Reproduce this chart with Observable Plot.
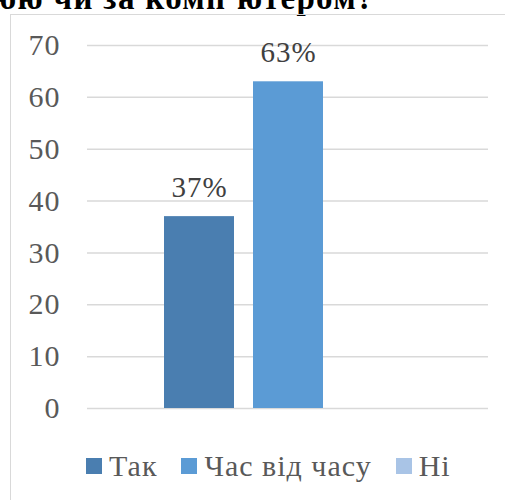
<!DOCTYPE html>
<html>
<head>
<meta charset="utf-8">
<script src="https://cdn.jsdelivr.net/npm/d3@7"></script>
<script src="https://cdn.jsdelivr.net/npm/@observablehq/plot@0.6"></script>
<style>
  body { margin: 0; background: #fff; }
  #wrap { position: relative; width: 505px; height: 500px; overflow: hidden; background: #fff; }
  #title { position: absolute; left: -9px; top: -18px; font-family: "Liberation Serif", "Times New Roman", serif; font-weight: bold; font-size: 33px; letter-spacing: 1.3px; color: #000; white-space: nowrap; line-height: 1; }
  #frame { position: absolute; left: 10px; top: 14px; width: 600px; height: 600px; border: 1.5px solid #d9d9d9; box-sizing: border-box; }
  #chart { position: absolute; left: 0; top: 0; }
  #legend { position: absolute; left: 86px; top: 449px; display: flex; font-family: "Liberation Serif", "Times New Roman", serif; font-size: 30px; letter-spacing: 1px; color: #595959; line-height: 34px; }
  .item { display: flex; align-items: center; margin-right: 24px; }
  .sw { width: 16px; height: 16px; margin-right: 7px; flex: none; }
</style>
</head>
<body>
<div id="wrap">
  <div id="title">юю чи за комп'ютером?</div>
  <div id="frame"></div>
  <div id="chart"></div>
  <div id="legend"></div>
</div>
<script>
const categories = ["Так", "Час від часу", "Ні"];
const values = [37, 63, 0];
const labels = ["37%", "63%", ""];
const colors = ["#4a7eb0", "#5b9bd5", "#a9c4e6"];
const yTicks = [0, 10, 20, 30, 40, 50, 60, 70];

const data = categories.map((c, i) => ({cat: c, value: values[i], label: labels[i]}));

const serif = "'Liberation Serif', 'Times New Roman', serif";

const plot = Plot.plot({
  width: 505,
  height: 430,
  marginLeft: 87,
  marginRight: 17,
  marginTop: 45,
  marginBottom: 22,
  style: {fontFamily: serif, background: "transparent"},
  x: {domain: categories, paddingInner: 0.2135, paddingOuter: 0.854, axis: null},
  y: {domain: [0, 70], ticks: yTicks, label: null},
  color: {domain: categories, range: colors},
  marks: [
    Plot.gridY(yTicks, {stroke: "#d9d9d9", strokeOpacity: 1, strokeWidth: 1.5}),
    Plot.barY(data, {x: "cat", y: "value", fill: "cat"}),
    Plot.text(data, {x: "cat", y: "value", text: "label", dy: -29, fontSize: 29, fontFamily: serif, fill: "#404040"}),
    Plot.axisY(yTicks, {tickSize: 0, tickPadding: 27, fontSize: 30, fontFamily: serif, fill: "#595959", label: null})
  ]
});
plot.querySelectorAll("text").forEach(t => t.style.letterSpacing = "1px");
document.getElementById("chart").appendChild(plot);

const leg = document.getElementById("legend");
categories.forEach((c, i) => {
  const item = document.createElement("div");
  item.className = "item";
  const sw = document.createElement("div");
  sw.className = "sw";
  sw.style.background = colors[i];
  const t = document.createElement("span");
  t.textContent = c;
  item.appendChild(sw);
  item.appendChild(t);
  leg.appendChild(item);
});
</script>
</body>
</html>
